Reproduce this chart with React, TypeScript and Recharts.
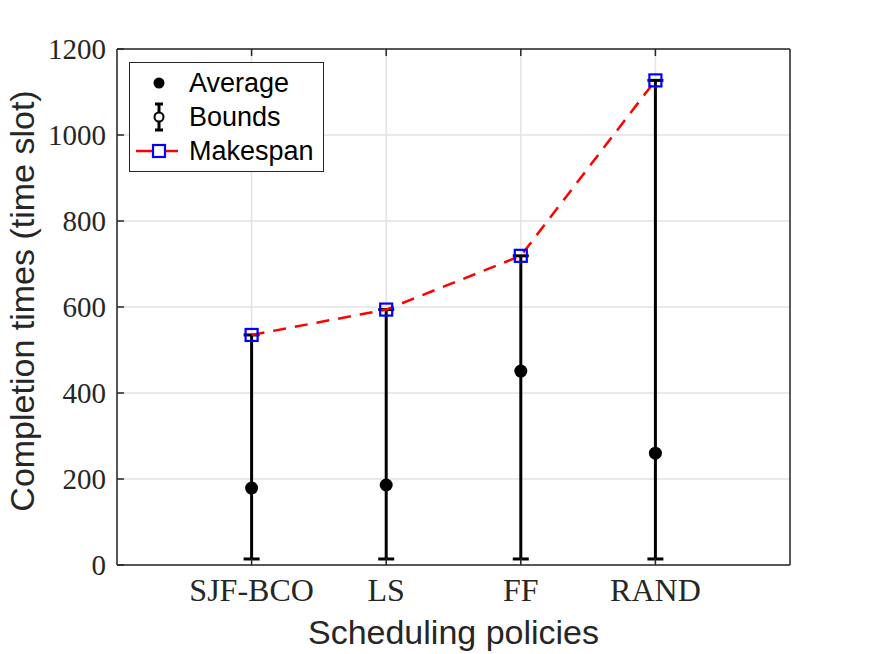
import React from 'react';
import {
  ComposedChart,
  Scatter,
  Line,
  ErrorBar,
  XAxis,
  YAxis,
  CartesianGrid,
  Label,
} from 'recharts';

const policies = ['SJF-BCO', 'LS', 'FF', 'RAND'];
const averageTimes = [179, 186, 451, 260];
const makespans = [535, 594, 719, 1127];
const lowerBounds = [14, 14, 14, 14];
const yTicks = [0, 200, 400, 600, 800, 1000, 1200];
const xTicks = [1, 2, 3, 4];

const AXIS_COLOR = '#262626';
const SERIF = '"Liberation Serif", "Times New Roman", serif';
const SANS = '"Liberation Sans", Arial, Helvetica, sans-serif';

const data = policies.map((name, i) => ({
  x: i + 1,
  name,
  average: averageTimes[i],
  makespan: makespans[i],
  // asymmetric error: [below, above] relative to the average
  bounds: [averageTimes[i] - lowerBounds[i], makespans[i] - averageTimes[i]],
}));

const BottomTick = (props: any) => {
  const { x, y, payload } = props;
  return (
    <g>
      <line x1={x} y1={y} x2={x} y2={y - 7} stroke={AXIS_COLOR} strokeWidth={1.5} />
      <text x={x} y={y + 36} textAnchor="middle" fontFamily={SERIF} fontSize={32} fill={AXIS_COLOR}>
        {policies[payload.value - 1]}
      </text>
    </g>
  );
};

const TopTick = (props: any) => {
  const { x, y } = props;
  return <line x1={x} y1={y} x2={x} y2={y + 7} stroke={AXIS_COLOR} strokeWidth={1.5} />;
};

const LeftTick = (props: any) => {
  const { x, y, payload } = props;
  return (
    <g>
      <line x1={x} y1={y} x2={x + 7} y2={y} stroke={AXIS_COLOR} strokeWidth={1.5} />
      <text x={x - 11} y={y} textAnchor="end" dominantBaseline="central" fontFamily={SERIF} fontSize={29} fill={AXIS_COLOR}>
        {payload.value}
      </text>
    </g>
  );
};

const RightTick = (props: any) => {
  const { x, y } = props;
  return <line x1={x} y1={y} x2={x - 7} y2={y} stroke={AXIS_COLOR} strokeWidth={1.5} />;
};

const SquareDot = (props: any) => {
  const { cx, cy, index } = props;
  return (
    <rect key={`sq-${index}`} x={cx - 6} y={cy - 6} width={12} height={12} fill="none" stroke="#0000ff" strokeWidth={2.2} />
  );
};

const BlackDot = (props: any) => {
  const { cx, cy } = props;
  return <circle cx={cx} cy={cy} r={6.5} fill="#000" />;
};

const YLabel = (props: any) => {
  const { viewBox } = props;
  const cx = 22;
  const cy = viewBox.y + viewBox.height / 2 - 6;
  return (
    <text
      x={cx}
      y={cy}
      transform={`rotate(-90, ${cx}, ${cy})`}
      textAnchor="middle"
      dominantBaseline="central"
      fontFamily={SANS}
      fontSize={34}
      fill={AXIS_COLOR}
    >
      Completion times (time slot)
    </text>
  );
};

const LegendBox = () => {
  const row: React.CSSProperties = { height: 34, display: 'flex', alignItems: 'center' };
  const text: React.CSSProperties = { fontFamily: SANS, fontSize: 27, color: '#000', lineHeight: '34px' };
  return (
    <div
      style={{
        position: 'absolute',
        left: 129,
        top: 62,
        width: 193,
        height: 105,
        border: `1.5px solid ${AXIS_COLOR}`,
        background: '#fff',
        paddingTop: 3,
        boxSizing: 'content-box',
      }}
    >
      <div style={row}>
        <svg width={59} height={34}>
          <circle cx={29} cy={17} r={5.5} fill="#000" />
        </svg>
        <span style={text}>Average</span>
      </div>
      <div style={row}>
        <svg width={59} height={34}>
          <line x1={29} y1={4} x2={29} y2={30} stroke="#000" strokeWidth={3} />
          <line x1={25} y1={4} x2={33} y2={4} stroke="#000" strokeWidth={3} />
          <line x1={25} y1={30} x2={33} y2={30} stroke="#000" strokeWidth={3} />
          <circle cx={29} cy={17} r={4.5} fill="#fff" stroke="#000" strokeWidth={2} />
        </svg>
        <span style={text}>Bounds</span>
      </div>
      <div style={row}>
        <svg width={59} height={34}>
          <line x1={6} y1={17} x2={48} y2={17} stroke="#ff0000" strokeWidth={2.5} />
          <rect x={23} y={11} width={12} height={12} fill="#fff" stroke="#0000ff" strokeWidth={2.2} />
        </svg>
        <span style={text}>Makespan</span>
      </div>
    </div>
  );
};

export default function App() {
  return (
    <div style={{ position: 'absolute', left: 0, top: 0, width: 872, height: 654, background: '#fff' }}>
      <ComposedChart width={872} height={654} data={data} margin={{ top: 48, right: 81, bottom: 0, left: 0 }}>
        <CartesianGrid stroke="#e3e3e3" strokeWidth={1.5} />
        <XAxis
          dataKey="x"
          type="number"
          domain={[0, 5]}
          ticks={xTicks}
          height={89}
          tickSize={0}
          tickMargin={0}
          tick={<BottomTick />}
          tickLine={false}
          axisLine={{ stroke: AXIS_COLOR, strokeWidth: 1.5 }}
          interval={0}
        >
          <Label
            value="Scheduling policies"
            position="insideBottom"
            offset={10}
            style={{ fontFamily: SANS, fontSize: 34, fill: AXIS_COLOR }}
          />
        </XAxis>
        <XAxis
          xAxisId="top"
          dataKey="x"
          type="number"
          orientation="top"
          domain={[0, 5]}
          ticks={xTicks}
          height={1}
          tickSize={0}
          tickMargin={0}
          tick={<TopTick />}
          tickLine={false}
          axisLine={{ stroke: AXIS_COLOR, strokeWidth: 1.5 }}
          interval={0}
        />
        <YAxis
          type="number"
          domain={[0, 1200]}
          ticks={yTicks}
          width={117}
          tickSize={0}
          tickMargin={0}
          tick={<LeftTick />}
          tickLine={false}
          axisLine={{ stroke: AXIS_COLOR, strokeWidth: 1.5 }}
          interval={0}
        >
          <Label content={<YLabel />} />
        </YAxis>
        <YAxis
          yAxisId="right"
          orientation="right"
          type="number"
          domain={[0, 1200]}
          ticks={yTicks}
          width={1}
          tickSize={0}
          tickMargin={0}
          tick={<RightTick />}
          tickLine={false}
          axisLine={{ stroke: AXIS_COLOR, strokeWidth: 1.5 }}
          interval={0}
        />
        <Scatter dataKey="average" shape={<BlackDot />} isAnimationActive={false}>
          <ErrorBar dataKey="bounds" direction="y" width={8} stroke="#000" strokeWidth={3} />
        </Scatter>
        <Line
          dataKey="makespan"
          stroke="#ff0000"
          strokeWidth={2.5}
          strokeDasharray="13 9"
          dot={SquareDot}
          activeDot={false}
          isAnimationActive={false}
        />
      </ComposedChart>
      <LegendBox />
    </div>
  );
}
